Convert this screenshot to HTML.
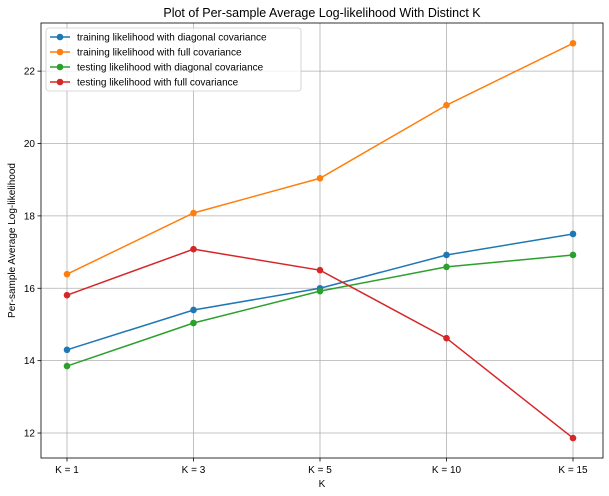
<!DOCTYPE html>
<html><head><meta charset="utf-8"><style>
html,body{margin:0;padding:0;background:#fff;}
svg{display:block;font-family:"Liberation Sans","DejaVu Sans",sans-serif;}
</style></head><body>
<svg id="chart" width="609" height="496"></svg>
<script>
const categories=["K = 1","K = 3","K = 5","K = 10","K = 15"];
const trainDiag=[14.3,15.4,16.0,16.92,17.5];
const trainFull=[16.39,18.08,19.04,21.06,22.77];
const testDiag=[13.85,15.04,15.92,16.59,16.92];
const testFull=[15.81,17.08,16.5,14.62,11.86];
const yTicks=[12,14,16,18,20,22];
const seriesNames=["training likelihood with diagonal covariance","training likelihood with full covariance","testing likelihood with diagonal covariance","testing likelihood with full covariance"];

const NS="http://www.w3.org/2000/svg";
const svg=document.getElementById('chart');
const L=41,R=603,T=23,B=458;
const yMin=11.31,yMax=23.33;
const xs=i=>67+i*(573-67)/(categories.length-1);
const ys=v=>B-(v-yMin)/(yMax-yMin)*(B-T);
function mk(tag,attrs,parent){const e=document.createElementNS(NS,tag);for(const k in attrs)e.setAttribute(k,attrs[k]);(parent||svg).appendChild(e);return e;}

const title=mk('text',{x:(L+R)/2,y:17,'text-anchor':'middle','font-size':12.5,fill:'#000'});
title.textContent="Plot of Per-sample Average Log-likelihood With Distinct K";



// grid + ticks
categories.forEach((c,i)=>{
  const g=mk('line',{x1:xs(i),x2:xs(i),y1:T,y2:B,stroke:'#b0b0b0','stroke-width':0.8});
  
  
  mk('line',{x1:xs(i),x2:xs(i),y1:B,y2:B+3.5,stroke:'#000','stroke-width':0.8});
  const t=mk('text',{x:xs(i),y:B+15,'text-anchor':'middle','font-size':10,fill:'#000'});
  t.textContent=c;
  
  
});
yTicks.forEach(v=>{
  const g=mk('line',{x1:L,x2:R,y1:ys(v),y2:ys(v),stroke:'#b0b0b0','stroke-width':0.8});
  
  
  mk('line',{x1:L-3.5,x2:L,y1:ys(v),y2:ys(v),stroke:'#000','stroke-width':0.8});
  const t=mk('text',{x:L-6,y:ys(v)+3.5,'text-anchor':'end','font-size':10,fill:'#000'});
  t.textContent=v;
  
  
});
const frame=mk('rect',{x:L,y:T,width:R-L,height:B-T,fill:'none',stroke:'#000','stroke-width':0.8});



const xl=mk('text',{x:(L+R)/2,y:487,'text-anchor':'middle','font-size':10,fill:'#000'});
xl.textContent="K";


const yl=mk('text',{x:15,y:(T+B)/2,'text-anchor':'middle','font-size':10,fill:'#000',transform:`rotate(-90 15 ${(T+B)/2})`});
yl.textContent="Per-sample Average Log-likelihood";



const allSeries=[trainDiag,trainFull,testDiag,testFull];
const colors=["#1f77b4","#ff7f0e","#2ca02c","#d62728"];
allSeries.forEach((s,k)=>{
  const pl=mk('polyline',{points:s.map((v,i)=>xs(i)+','+ys(v)).join(' '),fill:'none',stroke:colors[k],'stroke-width':1.5});
  
  
  s.forEach((v,i)=>{
    const c=mk('circle',{cx:xs(i),cy:ys(v),r:3.3,fill:colors[k]});
    
    
  });
});

// legend
const lg=mk('rect',{x:46,y:28,width:255,height:63,rx:3,fill:'#fff','fill-opacity':0.8,stroke:'#ccc','stroke-width':0.8});


seriesNames.forEach((n,k)=>{
  const y=37+k*15;
  mk('line',{x1:50,x2:70,y1:y,y2:y,stroke:colors[k],'stroke-width':1.5});
  mk('circle',{cx:60,cy:y,r:3.3,fill:colors[k]});
  const t=mk('text',{x:77,y:y+3.5,'font-size':10,fill:'#000'});
  t.textContent=n;
  
  
});
</script>
</body></html>
